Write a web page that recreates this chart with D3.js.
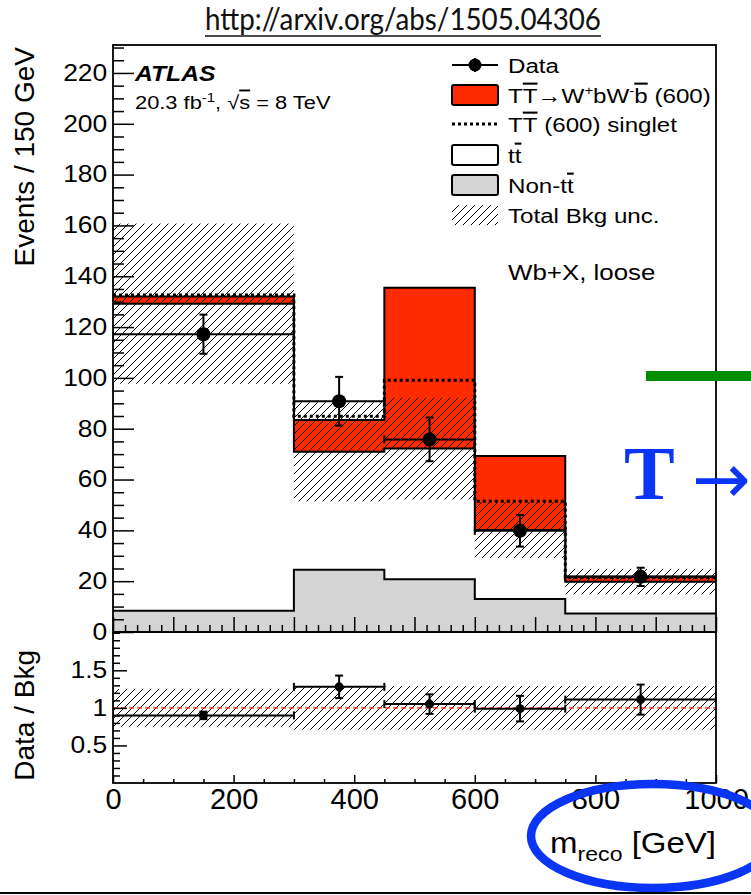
<!DOCTYPE html>
<html>
<head>
<meta charset="utf-8">
<script src="https://cdn.jsdelivr.net/npm/d3@7"></script>
<style>
  body { margin: 0; background: #fff; }
  svg { display: block; }
</style>
</head>
<body>
<div id="chart"></div>
<script>
// ---- values ----
const binEdges = [0, 300, 450, 600, 750, 1000];          // m_reco bins [GeV]
const nonTT = [8.4, 24.5, 20.8, 13.0, 7.3];               // Non-tt (grey)
const bkgTotal = [129.2, 70.9, 72.2, 40.1, 19.8];         // Non-tt + tt (white)
const signalStack = [132.0, 83.4, 135.5, 69.3, 21.8];     // bkg + TT->WbWb (600)
const singletStack = [132.6, 84.9, 99.1, 51.5, 21.4];     // bkg + TT (600) singlet
const bkgUnc = [31.5, 19.5, 20.0, 11.0, 5.0];             // total bkg unc.
const dataVals = [117.2, 90.8, 75.8, 39.8, 21.7];
const dataErr = [7.7, 9.6, 8.6, 6.2, 3.6];
const ratioVals = [0.90, 1.28, 1.05, 0.99, 1.11];
const ratioErr = [0.05, 0.15, 0.13, 0.17, 0.20];
const ratioUnc = [0.25, 0.29, 0.29, 0.29, 0.29];

const yMainTicks = [0, 20, 40, 60, 80, 100, 120, 140, 160, 180, 200, 220];
const yRatioTicks = [0.5, 1, 1.5];
const xTicks = [0, 200, 400, 600, 800, 1000];

const W = 751, H = 895;
const SX = 1.15;   // the ROOT fonts are wider than Liberation Sans
const FONT = "'Liberation Sans', Arial, Helvetica, sans-serif";
const RED = "#fe2a00";

var svg = d3.select("#chart").append("svg")
    .attr("width", W).attr("height", H)
    .attr("viewBox", `0 0 ${W} ${H}`);

var frame = {left: 113, right: 716, top: 45, mid: 632, bottom: 783};

var x = d3.scaleLinear().domain([0, 1000]).range([frame.left, frame.right]);
var yMain = d3.scaleLinear().domain([0, 231]).range([frame.mid, frame.top]);
var yRatio = d3.scaleLinear().domain([0, 2.01]).range([frame.bottom, frame.mid]);

var defs = svg.append("defs");
defs.append("pattern")
    .attr("id", "hatch")
    .attr("patternUnits", "userSpaceOnUse")
    .attr("width", 8).attr("height", 8)
  .append("path")
    .attr("d", "M-2,2 l4,-4 M0,8 l8,-8 M6,10 l4,-4")
    .attr("stroke", "#000").attr("stroke-width", 1);
defs.append("clipPath").attr("id", "clipMain").append("rect")
    .attr("x", frame.left).attr("y", frame.top)
    .attr("width", frame.right - frame.left).attr("height", frame.mid - frame.top);
defs.append("clipPath").attr("id", "clipRatio").append("rect")
    .attr("x", frame.left).attr("y", frame.mid)
    .attr("width", frame.right - frame.left).attr("height", frame.bottom - frame.mid);

// text helper: ROOT-like wide Helvetica
function addText(parent, px, py, size, anchor, rot, sx) {
    var s = sx === undefined ? SX : sx;
    var g = parent.append("g")
        .attr("transform", `translate(${px},${py})` + (rot ? ` rotate(${rot})` : "") + ` scale(${s},1)`);
    return g.append("text")
        .attr("text-anchor", anchor || "start")
        .style("font-family", FONT)
        .style("font-size", size + "px")
        .attr("fill", "#000");
}

// histogram as step points
function steps(vals) {
    var pts = vals.map(function(v, i) { return {x: binEdges[i], y: v}; });
    pts.push({x: binEdges[binEdges.length - 1], y: vals[vals.length - 1]});
    return pts;
}

// ---- main panel ----
var main = svg.append("g").attr("clip-path", "url(#clipMain)");

function stackHist(vals, fill) {
    var area = d3.area()
        .x(function(d) { return x(d.x); })
        .y0(yMain(0))
        .y1(function(d) { return yMain(d.y); })
        .curve(d3.curveStepAfter);
    var line = d3.line()
        .x(function(d) { return x(d.x); })
        .y(function(d) { return yMain(d.y); })
        .curve(d3.curveStepAfter);
    main.append("path").attr("d", area(steps(vals))).attr("fill", fill);
    main.append("path").attr("d", line(steps(vals)))
        .attr("fill", "none").attr("stroke", "#000").attr("stroke-width", 2);
}
stackHist(signalStack, RED);
stackHist(bkgTotal, "#fff");
stackHist(nonTT, "#d4d4d4");

// singlet dotted line
main.append("path")
    .attr("d", d3.line()
        .x(function(d) { return x(d.x); })
        .y(function(d) { return yMain(d.y); })
        .curve(d3.curveStepAfter)(steps(singletStack)))
    .attr("fill", "none").attr("stroke", "#000")
    .attr("stroke-width", 3).attr("stroke-dasharray", "3,3");

// total bkg uncertainty band
main.selectAll(".unc")
    .data(bkgTotal)
    .enter().append("rect")
    .attr("class", "unc")
    .attr("x", function(d, i) { return x(binEdges[i]); })
    .attr("width", function(d, i) { return x(binEdges[i + 1]) - x(binEdges[i]); })
    .attr("y", function(d, i) { return yMain(d + bkgUnc[i]); })
    .attr("height", function(d, i) { return yMain(d - bkgUnc[i]) - yMain(d + bkgUnc[i]); })
    .attr("fill", "url(#hatch)");

// data points with error bars
function drawPoints(g, yScale, vals, errs, r) {
    vals.forEach(function(v, i) {
        var x0 = x(binEdges[i]), x1 = x(binEdges[i + 1]);
        var xc = x((binEdges[i] + binEdges[i + 1]) / 2);
        var yc = yScale(v), yt = yScale(v + errs[i]), yb = yScale(v - errs[i]);
        var p = g.append("g").attr("stroke", "#000").attr("stroke-width", 2);
        p.append("line").attr("x1", x0).attr("x2", x1).attr("y1", yc).attr("y2", yc);
        p.append("line").attr("x1", x0).attr("x2", x0).attr("y1", yc - 4).attr("y2", yc + 4);
        p.append("line").attr("x1", x1).attr("x2", x1).attr("y1", yc - 4).attr("y2", yc + 4);
        p.append("line").attr("x1", xc).attr("x2", xc).attr("y1", yt).attr("y2", yb);
        p.append("line").attr("x1", xc - 4).attr("x2", xc + 4).attr("y1", yt).attr("y2", yt);
        p.append("line").attr("x1", xc - 4).attr("x2", xc + 4).attr("y1", yb).attr("y2", yb);
        g.append("circle").attr("cx", xc).attr("cy", yc).attr("r", r).attr("fill", "#000");
    });
}
drawPoints(main, yMain, dataVals, dataErr, 7);

// ---- ratio panel ----
var ratio = svg.append("g").attr("clip-path", "url(#clipRatio)");
ratio.selectAll(".runc")
    .data(ratioUnc)
    .enter().append("rect")
    .attr("class", "runc")
    .attr("x", function(d, i) { return x(binEdges[i]); })
    .attr("width", function(d, i) { return x(binEdges[i + 1]) - x(binEdges[i]); })
    .attr("y", function(d) { return yRatio(1 + d); })
    .attr("height", function(d) { return yRatio(1 - d) - yRatio(1 + d); })
    .attr("fill", "url(#hatch)");
ratio.append("line")
    .attr("x1", frame.left).attr("x2", frame.right)
    .attr("y1", yRatio(1)).attr("y2", yRatio(1))
    .attr("stroke", "#ff1a00").attr("stroke-width", 1.2)
    .attr("stroke-dasharray", "5,3");
drawPoints(ratio, yRatio, ratioVals, ratioErr, 4.5);

// ---- axes (ROOT style, ticks inside) ----
function styleAxis(g, size) {
    g.select(".domain").remove();
    g.selectAll("line").attr("stroke", "#000").attr("stroke-width", 1.5);
    g.attr("font-family", null).attr("font-size", null);
    g.selectAll("text")
        .style("font-family", FONT)
        .style("font-size", size + "px")
        .attr("fill", "#000");
}

var yMinor = d3.range(0, 231, 5).filter(function(v) { return v % 20 !== 0; });
styleAxis(svg.append("g").attr("transform", `translate(${frame.left},0)`)
    .call(d3.axisLeft(yMain).tickValues(yMinor).tickSize(-11).tickFormat("")), 22);
var yAx = svg.append("g").attr("transform", `translate(${frame.left},0)`)
    .call(d3.axisLeft(yMain).tickValues(yMainTicks).tickSize(-21).tickPadding(5));
styleAxis(yAx, 23);
yAx.selectAll("text").attr("transform", `scale(${SX},1)`);

var xMinorMain = d3.range(0, 1001, 20).filter(function(v) { return v % 100 !== 0; });
styleAxis(svg.append("g").attr("transform", `translate(0,${frame.mid})`)
    .call(d3.axisBottom(x).tickValues(xMinorMain).tickSize(-7).tickFormat("")), 22);
styleAxis(svg.append("g").attr("transform", `translate(0,${frame.mid})`)
    .call(d3.axisBottom(x).tickValues(d3.range(0, 1001, 100)).tickSize(-15).tickFormat("")), 22);

var rMinor = d3.range(1, 21).map(function(v) { return v / 10; })
    .filter(function(v) { return v !== 0.5 && v !== 1 && v !== 1.5; });
styleAxis(svg.append("g").attr("transform", `translate(${frame.left},0)`)
    .call(d3.axisLeft(yRatio).tickValues(rMinor).tickSize(-7).tickFormat("")), 22);
var rAx = svg.append("g").attr("transform", `translate(${frame.left},0)`)
    .call(d3.axisLeft(yRatio).tickValues(yRatioTicks).tickSize(-14).tickPadding(5)
        .tickFormat(function(d) { return String(d); }));
styleAxis(rAx, 23);
rAx.selectAll("text").attr("transform", `scale(${SX},1)`);

var xMinorRatio = d3.range(0, 1001, 50).filter(function(v) { return v % 200 !== 0; });
styleAxis(svg.append("g").attr("transform", `translate(0,${frame.bottom})`)
    .call(d3.axisBottom(x).tickValues(xMinorRatio).tickSize(-4).tickFormat("")), 22);
var xAx = svg.append("g").attr("transform", `translate(0,${frame.bottom})`)
    .call(d3.axisBottom(x).tickValues(xTicks).tickSize(-8).tickPadding(5)
        .tickFormat(d3.format("d")));
styleAxis(xAx, 29);

// frames
[[frame.top, frame.mid], [frame.mid, frame.bottom]].forEach(function(r) {
    svg.append("rect")
        .attr("x", frame.left).attr("y", r[0])
        .attr("width", frame.right - frame.left).attr("height", r[1] - r[0])
        .attr("fill", "none").attr("stroke", "#000").attr("stroke-width", 1.8);
});

// axis titles
addText(svg, 34, 47, 28, "end", -90, 1).text("Events / 150 GeV");
addText(svg, 34, 650, 28, "end", -90, 1).text("Data / Bkg");
var xt = addText(svg, 716, 853, 30, "end", 0, 1.1);
xt.append("tspan").text("m");
xt.append("tspan").attr("dy", 8).style("font-size", "21px").text("reco");
xt.append("tspan").attr("dy", -8).text(" [GeV]");

// ATLAS label
addText(svg, 135, 81, 21.5, "start")
    .style("font-weight", "bold").style("font-style", "italic").text("ATLAS");
var lumi = addText(svg, 135, 109, 19, "start");
lumi.append("tspan").text("20.3 fb");
lumi.append("tspan").attr("dy", -7).style("font-size", "13px").text("-1");
lumi.append("tspan").attr("dy", 7).text(", √");
lumi.append("tspan").style("text-decoration", "overline").text("s");
lumi.append("tspan").text(" = 8 TeV");

addText(svg, 508, 280, 22.5, "start").text("Wb+X, loose");

// ---- legend ----
var leg = svg.append("g");
var lx = 452, lw = 46, tx = 508;
// Data
leg.append("line").attr("x1", lx).attr("x2", lx + lw).attr("y1", 65).attr("y2", 65)
    .attr("stroke", "#000").attr("stroke-width", 2);
leg.append("line").attr("x1", lx + lw / 2).attr("x2", lx + lw / 2).attr("y1", 58).attr("y2", 72)
    .attr("stroke", "#000").attr("stroke-width", 2);
leg.append("circle").attr("cx", lx + lw / 2).attr("cy", 65).attr("r", 6.5).attr("fill", "#000");
addText(leg, tx, 73, 21, "start").text("Data");
// signal box
leg.append("rect").attr("x", lx).attr("y", 85).attr("width", lw).attr("height", 20).attr("rx", 2)
    .attr("fill", RED).attr("stroke", "#000").attr("stroke-width", 2);
var s1 = addText(leg, tx, 103, 21, "start");
s1.append("tspan").text("T");
s1.append("tspan").style("text-decoration", "overline").text("T");
s1.append("tspan").text("→W");
s1.append("tspan").attr("dy", -8).style("font-size", "13px").text("+");
s1.append("tspan").attr("dy", 8).text("bW");
s1.append("tspan").attr("dy", -8).style("font-size", "13px").text("-");
s1.append("tspan").attr("dy", 8).style("text-decoration", "overline").text("b");
s1.append("tspan").text(" (600)");
// singlet dotted
leg.append("line").attr("x1", lx).attr("x2", lx + lw).attr("y1", 124).attr("y2", 124)
    .attr("stroke", "#000").attr("stroke-width", 3).attr("stroke-dasharray", "3,3");
var s2 = addText(leg, tx, 132, 21, "start");
s2.append("tspan").text("T");
s2.append("tspan").style("text-decoration", "overline").text("T");
s2.append("tspan").text(" (600) singlet");
// tt
leg.append("rect").attr("x", lx).attr("y", 145).attr("width", lw).attr("height", 20).attr("rx", 2)
    .attr("fill", "#fff").attr("stroke", "#000").attr("stroke-width", 2);
var s3 = addText(leg, tx, 163, 21, "start");
s3.append("tspan").text("t");
s3.append("tspan").style("text-decoration", "overline").text("t");
// non-tt
leg.append("rect").attr("x", lx).attr("y", 175).attr("width", lw).attr("height", 20).attr("rx", 2)
    .attr("fill", "#d4d4d4").attr("stroke", "#000").attr("stroke-width", 2);
var s4 = addText(leg, tx, 193, 21, "start");
s4.append("tspan").text("Non-t");
s4.append("tspan").style("text-decoration", "overline").text("t");
// unc
leg.append("rect").attr("x", lx).attr("y", 205).attr("width", lw).attr("height", 20)
    .attr("fill", "url(#hatch)");
addText(leg, tx, 223, 21, "start").text("Total Bkg unc.");

// ---- slide annotations over the figure ----
svg.append("text")
    .attr("x", 403).attr("y", 30)
    .attr("text-anchor", "middle")
    .attr("textLength", 396).attr("lengthAdjust", "spacingAndGlyphs")
    .style("font-family", "Lato, 'Open Sans', sans-serif")
    .style("font-size", "30px")
    .attr("fill", "#111")
    .text("http://arxiv.org/abs/1505.04306");
svg.append("line").attr("x1", 205).attr("x2", 601).attr("y1", 36).attr("y2", 36)
    .attr("stroke", "#111").attr("stroke-width", 1.5);

svg.append("rect").attr("x", 646).attr("y", 371).attr("width", 110).attr("height", 10)
    .attr("fill", "#008c00");
svg.append("text")
    .attr("x", 624).attr("y", 499)
    .style("font-family", "'Liberation Serif', 'Times New Roman', serif")
    .style("font-weight", "bold")
    .style("font-size", "76px")
    .attr("fill", "#0a35f5")
    .text("T");
svg.append("text")
    .attr("x", 692).attr("y", 503)
    .style("font-family", "'DejaVu Sans', sans-serif")
    .style("font-size", "70px")
    .attr("fill", "#0a35f5")
    .text("→");

svg.append("ellipse")
    .attr("cx", 653).attr("cy", 836).attr("rx", 122).attr("ry", 52)
    .attr("fill", "none").attr("stroke", "#0a35f5").attr("stroke-width", 8.5);

svg.append("line").attr("x1", 0).attr("x2", W).attr("y1", 893).attr("y2", 893)
    .attr("stroke", "#000").attr("stroke-width", 2);
</script>
</body>
</html>
